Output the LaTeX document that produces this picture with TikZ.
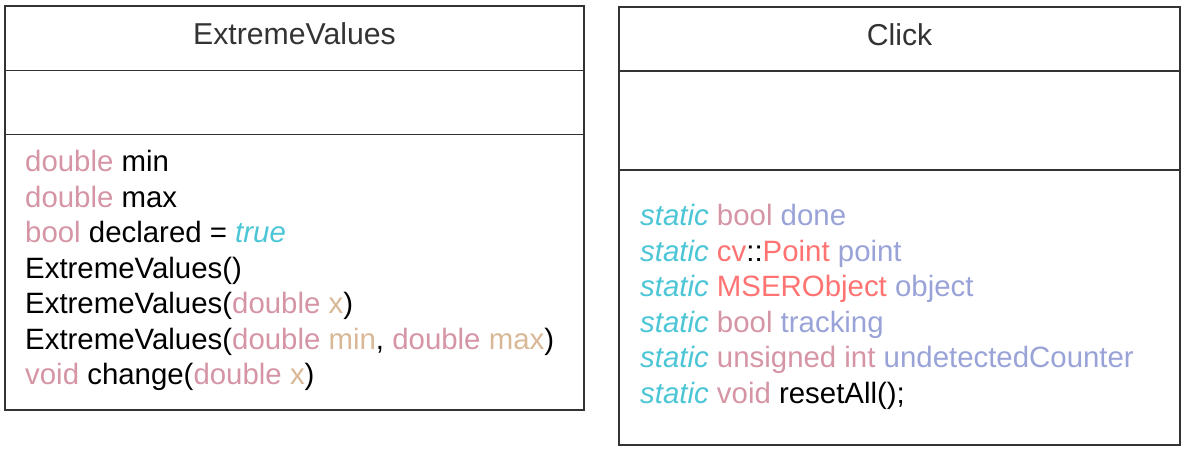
\documentclass[tikz,border=0pt]{standalone}
\usepackage{fontspec}
\setmainfont{Liberation Sans}
\definecolor{frame}{HTML}{333333}
\definecolor{ktype}{HTML}{D595A5}
\definecolor{kparam}{HTML}{D8B896}
\definecolor{kcyan}{HTML}{4CC6D6}
\definecolor{kred}{HTML}{FF7373}
\definecolor{kblue}{HTML}{99A3D8}
\newcommand{\ty}[1]{\textcolor{ktype}{#1}}
\newcommand{\pa}[1]{\textcolor{kparam}{#1}}
\newcommand{\cy}[1]{\textcolor{kcyan}{\itshape #1}}
\newcommand{\rd}[1]{\textcolor{kred}{#1}}
\newcommand{\bl}[1]{\textcolor{kblue}{#1}}
\begin{document}
\begin{tikzpicture}[x=1pt,y=-1pt,
  boxline/.style={draw=frame,line width=1.6pt},
  divline/.style={draw=frame,line width=1.3pt},
  title/.style={anchor=base,inner sep=0pt,text=frame,font=\fontsize{30.2}{31}\selectfont},
  member/.style={anchor=base west,inner sep=0pt,font=\fontsize{29.4}{30}\selectfont}]
\useasboundingbox (0,0) rectangle (1187,452);
% ExtremeValues box
\draw[boxline] (5,6) rectangle (584,410);
\draw[divline] (5,70.5) -- (584,70.5);
\draw[divline] (5,134.5) -- (584,134.5);
\node[title] (evt) at (294.5,45) {ExtremeValues};
\node[member] (e1) at (25,171.5) {\ty{double} min};
\node[member] (e2) at (25,207) {\ty{double} max};
\node[member] (e3) at (25,242.5) {\ty{bool} declared = \cy{true}};
\node[member] (e4) at (25,278) {ExtremeValues()};
\node[member] (e5) at (25,313.5) {ExtremeValues(\ty{double} \pa{x})};
\node[member] (e6) at (25,349) {ExtremeValues(\ty{double} \pa{min}, \ty{double} \pa{max})};
\node[member] (e7) at (25,384.5) {\ty{void} change(\ty{double} \pa{x})};
% Click box
\draw[boxline] (619,7) rectangle (1180,445);
\draw[divline] (619,71) -- (1180,71);
\draw[divline] (619,170) -- (1180,170);
\node[title] (ct) at (899.5,45.5) {Click};
\node[member] (c1) at (640,225.5) {\cy{static} \ty{bool} \bl{done}};
\node[member] (c2) at (640,261) {\cy{static} \rd{cv}::\rd{Point} \bl{point}};
\node[member] (c3) at (640,296.5) {\cy{static} \rd{MSERObject} \bl{object}};
\node[member] (c4) at (640,332) {\cy{static} \ty{bool} \bl{tracking}};
\node[member] (c5) at (640,367.5) {\cy{static} \ty{unsigned int} \bl{undetectedCounter}};
\node[member] (c6) at (640,403) {\cy{static} \ty{void} resetAll();};
\end{tikzpicture}
\end{document}
